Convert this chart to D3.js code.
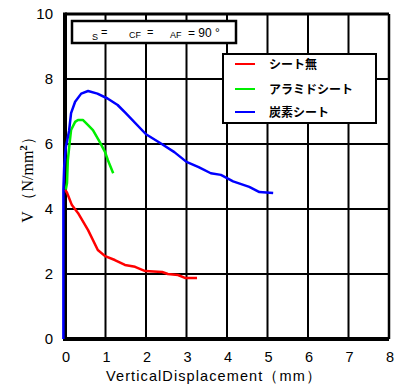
<!DOCTYPE html>
<html><head><meta charset="utf-8">
<script src="https://cdn.jsdelivr.net/npm/d3@7"></script>
<style>body{margin:0;background:#fff}svg{display:block}</style>
</head><body>
<script>
const xTicks = [0,1,2,3,4,5,6,7,8];
const yTicks = [0,2,4,6,8,10];
const seriesNames = ["シート無","アラミドシート","炭素シート"];
const seriesColors = ["#ff0000","#00ee00","#0000ff"];
const redX = [0,0.05,0.17,0.32,0.57,0.81,0.99,1.23,1.48,1.73,1.98,2.4,2.54,2.79,2.96,3.26];
const redY = [4.6,4.5,4.12,3.88,3.35,2.74,2.55,2.43,2.28,2.22,2.09,2.06,2.0,1.97,1.88,1.88];
const greenX = [0.02,0.05,0.07,0.12,0.15,0.25,0.32,0.44,0.57,0.69,0.86,0.99,1.06,1.19];
const greenY = [4.6,4.8,5.5,6.1,6.43,6.68,6.74,6.74,6.58,6.43,6.06,5.75,5.5,5.1];
const blueX = [-0.04,-0.04,-0.02,0.02,0.1,0.15,0.25,0.4,0.57,0.8,1.05,1.3,1.5,2.0,2.35,2.7,3.0,3.3,3.6,3.85,4.15,4.55,4.8,5.14];
const blueY = [0,4.6,5.3,5.9,6.4,6.95,7.3,7.55,7.63,7.55,7.4,7.2,6.95,6.3,6.03,5.75,5.45,5.29,5.1,5.05,4.85,4.68,4.52,4.49];

const W=397,H=387;
const svg=d3.select("body").append("svg").attr("width",W).attr("height",H);
const x=d3.scaleLinear().domain([0,8]).range([65,389]);
const y=d3.scaleLinear().domain([0,10]).range([339,14]);

// grid
const g=svg.append("g");
g.selectAll(".vg").data(xTicks.slice(1,-1)).join("line")
 .attr("x1",d=>x(d)).attr("x2",d=>x(d)).attr("y1",y(10)).attr("y2",y(0))
 .attr("stroke","#000").attr("stroke-width",2);
g.selectAll(".hg").data(yTicks.slice(1,-1)).join("line")
 .attr("x1",x(0)).attr("x2",x(8)).attr("y1",d=>y(d)).attr("y2",d=>y(d))
 .attr("stroke","#000").attr("stroke-width",2);

// frame
svg.append("line").attr("x1",x(0)).attr("x2",x(8)).attr("y1",y(10)).attr("y2",y(10)).attr("stroke","#000").attr("stroke-width",3);
svg.append("line").attr("x1",x(0)).attr("x2",x(8)).attr("y1",y(0)).attr("y2",y(0)).attr("stroke","#000").attr("stroke-width",4);
svg.append("line").attr("x1",x(8)).attr("x2",x(8)).attr("y1",y(10)).attr("y2",y(0)).attr("stroke","#000").attr("stroke-width",2.5);
svg.append("line").attr("x1",x(0)).attr("x2",x(0)).attr("y1",y(10)-1.5).attr("y2",y(0)+2).attr("stroke","#000").attr("stroke-width",4);

// tick labels
svg.selectAll(".yl").data(yTicks).join("text")
 .attr("x",53).attr("y",d=>y(d)+5).attr("text-anchor","end")
 .attr("font-family","Liberation Sans, Arial, sans-serif").attr("font-size",15).text(d=>d);
svg.selectAll(".xl").data(xTicks).join("text")
 .attr("x",d=>x(d)+1).attr("y",362).attr("text-anchor","middle")
 .attr("font-family","Liberation Sans, Arial, sans-serif").attr("font-size",14.5).text(d=>d);

// axis titles
svg.append("text").attr("x",214).attr("y",381).attr("text-anchor","middle")
 .attr("font-family","Liberation Sans, Arial, sans-serif").attr("font-size",14.5).attr("letter-spacing",1.1)
 .text("VerticalDisplacement（mm）");
const yt=svg.append("text").attr("transform","translate(33,176) rotate(-90)").attr("text-anchor","middle")
 .attr("font-family","Liberation Serif, Times New Roman, serif").attr("font-size",16);
yt.append("tspan").text("V （N/mm");
yt.append("tspan").attr("dy",-6).attr("font-size",11).attr("font-weight","bold").text("2");
yt.append("tspan").attr("dy",6).text("）");

// curves
const line=d3.line().x(d=>x(d[0])).y(d=>y(d[1]));
const series=[d3.zip(redX,redY),d3.zip(greenX,greenY),d3.zip(blueX,blueY)];
svg.selectAll(".curve").data(series).join("path")
 .attr("d",line).attr("fill","none").attr("stroke",(d,i)=>seriesColors[i]).attr("stroke-width",2.5)
 .attr("stroke-linejoin","round");

// condition box
svg.append("rect").attr("x",72).attr("y",21).attr("width",164).attr("height",22)
 .attr("fill","#fff").attr("stroke","#000").attr("stroke-width",2.5);
const cf="Liberation Sans, Arial, sans-serif";
function t(xp,yp,s,fs){svg.append("text").attr("x",xp).attr("y",yp).attr("font-family",cf).attr("font-size",fs).text(s);}
t(92,40,"S",9); t(101,36,"=",11);
t(129,38,"CF",9); t(147,36,"=",11);
t(170,38,"AF",9); t(188,37,"= 90 °",12);

// legend
svg.append("rect").attr("x",223).attr("y",54).attr("width",153).attr("height",69)
 .attr("fill","#fff").attr("stroke","#000").attr("stroke-width",2);
const ly=[64,89,112];
seriesNames.forEach((n,i)=>{
 svg.append("line").attr("x1",235).attr("x2",255).attr("y1",ly[i]).attr("y2",ly[i]).attr("stroke",seriesColors[i]).attr("stroke-width",2);
 svg.append("text").attr("x",269).attr("y",ly[i]+4.5).attr("font-family","Noto Sans CJK JP, sans-serif").attr("font-weight","bold").attr("font-size",12).text(n);
});
</script>
</body></html>
